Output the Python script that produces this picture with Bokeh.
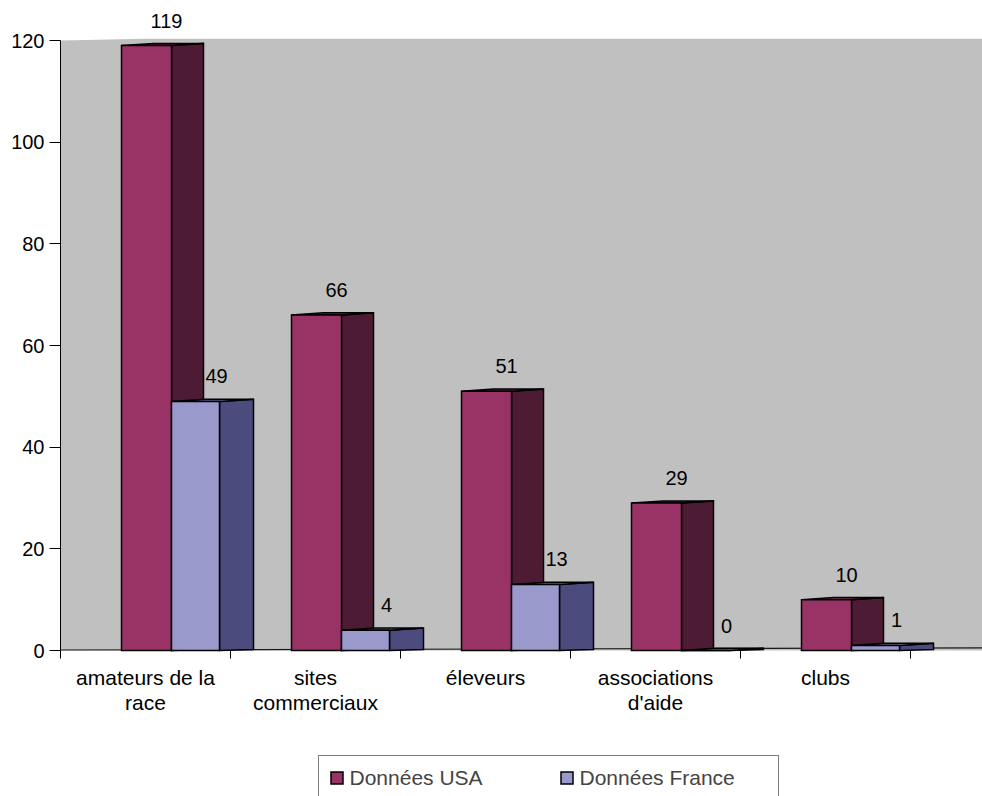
from bokeh.plotting import figure
from bokeh.models import Range1d, FixedTicker, Legend, LegendItem
from bokeh.embed import file_html
from bokeh.resources import INLINE
from bokeh.core.properties import value

# ---- data ----
categories = ["amateurs de la\nrace", "sites\ncommerciaux", "éleveurs",
              "associations\nd'aide", "clubs"]
usa_values = [119, 66, 51, 29, 10]
france_values = [49, 4, 13, 0, 1]
series_names = ["Données USA", "Données France"]
y_ticks = [0, 20, 40, 60, 80, 100, 120]

# ---- geometry (screen scale: 170 px per category, 610 px per 120 units) ----
W, H = 982, 796
ORIGIN_X, ORIGIN_Y = 60.0, 650.0   # pixel position of the value axis foot
PX_X = 170.0
PX_Y = 610.0 / 120.0
RISE = 2.2 / PX_Y      # perspective lift of the back edge
BASE = 1.0 / PX_Y

FONT = "Liberation Sans"

USA_STYLE = dict(left=61 / PX_X, front=50 / PX_X, depth=32 / PX_X,
                 front_color="#993366", side_color="#4d1b33", top_color="#7a2950")
FR_STYLE = dict(left=111 / PX_X, front=48 / PX_X, depth=34 / PX_X,
                front_color="#9999cc", side_color="#4b4b7e", top_color="#7676aa")


def prisms(values, st):
    fronts, sides, tops = ([], []), ([], []), ([], [])
    for i, v in enumerate(values):
        x0 = i + st["left"]
        x1 = x0 + st["front"]
        x2 = x1 + st["depth"]
        fronts[0].append([x0, x1, x1, x0]); fronts[1].append([0, 0, v, v])
        sides[0].append([x1, x2, x2, x1]); sides[1].append([0, BASE, v + RISE, v])
        tops[0].append([x0, x1, x2, x0 + st["depth"]]); tops[1].append([v, v, v + RISE, v + RISE])
    return fronts, sides, tops


x_start = -ORIGIN_X / PX_X
x_end = (W - ORIGIN_X) / PX_X
y_start = -(H - ORIGIN_Y) / PX_Y
y_end = ORIGIN_Y / PX_Y

p = figure(width=W, height=H,
           x_range=Range1d(x_start, x_end), y_range=Range1d(y_start, y_end),
           output_backend="svg", toolbar_location=None,
           min_border_left=0, min_border_right=0, min_border_top=0,
           min_border_bottom=0)
p.outline_line_color = None
p.background_fill_color = "white"
p.border_fill_color = "white"
p.xgrid.visible = False
p.ygrid.visible = False

# back wall
p.patch([0, 0, 0.5, x_end, x_end], [0, 120, 120 + 0.33, 120 + 0.33, 0],
        fill_color="#c0c0c0", line_color=None)
# floor edge
p.line([0, x_end], [0.1, 0.5], line_color="#1a1a1a", line_width=1.2)

renderers = {}
for name, vals, st in [(series_names[0], usa_values, USA_STYLE),
                       (series_names[1], france_values, FR_STYLE)]:
    fronts, sides, tops = prisms(vals, st)
    p.patches(sides[0], sides[1], fill_color=st["side_color"], line_color="black",
              line_width=1.5, line_join="miter")
    p.patches(tops[0], tops[1], fill_color=st["top_color"], line_color="black",
              line_width=1.5, line_join="miter")
    renderers[name] = p.patches(fronts[0], fronts[1], fill_color=st["front_color"],
                                line_color="black", line_width=1.5, line_join="miter")

# value labels above each prism
for vals, st in [(usa_values, USA_STYLE), (france_values, FR_STYLE)]:
    xs = [i + st["left"] + (st["front"] + st["depth"]) / 2 + 4 / PX_X for i in range(len(vals))]
    ys = [v + 25 / PX_Y for v in vals]
    p.text(xs, ys, text=[str(v) for v in vals], text_font=value(FONT),
           text_font_size="20px", text_align="center", text_baseline="middle",
           text_color="black")

# y axis, pinned at x = 0
ya = p.yaxis[0]
ya.fixed_location = 0
ya.ticker = FixedTicker(ticks=y_ticks)
ya.bounds = (0, 120)
ya.axis_line_color = "black"
ya.axis_line_width = 1
ya.major_tick_out = 11
ya.major_tick_in = 0
ya.major_tick_line_color = "black"
ya.minor_tick_line_color = None
ya.major_label_standoff = 5
ya.major_label_text_font = FONT
ya.major_label_text_font_size = "20px"
ya.major_label_text_color = "black"

# x axis, pinned at y = 0: labels centred on categories, tick marks between them
xa = p.xaxis[0]
xa.fixed_location = 0
centers = [i + 0.5 for i in range(len(categories))]
xa.ticker = FixedTicker(ticks=centers, minor_ticks=list(range(len(categories) + 1)))
xa.major_label_overrides = {c: lab for c, lab in zip(centers, categories)}
xa.axis_line_color = None
xa.major_tick_line_color = None
xa.major_tick_out = 0
xa.major_tick_in = 0
xa.minor_tick_line_color = "black"
xa.minor_tick_out = 8
xa.minor_tick_in = 0
xa.major_label_standoff = 7
xa.major_label_text_font = FONT
xa.major_label_text_font_size = "21px"
xa.major_label_text_line_height = 1.1
xa.major_label_text_color = "black"

legend = Legend(items=[LegendItem(label=series_names[0], renderers=[renderers[series_names[0]]]),
                       LegendItem(label=series_names[1], renderers=[renderers[series_names[1]]])],
                orientation="horizontal", location=(317.5, -4.5), margin=0, padding=10,
                spacing=21, glyph_width=15, glyph_height=15, label_standoff=6,
                label_width=188,
                label_text_font=FONT, label_text_font_size="21px",
                border_line_color="black", border_line_width=1,
                background_fill_color="white", background_fill_alpha=1.0)
p.add_layout(legend, "center")

open("out.html", "w").write(file_html(p, INLINE))
